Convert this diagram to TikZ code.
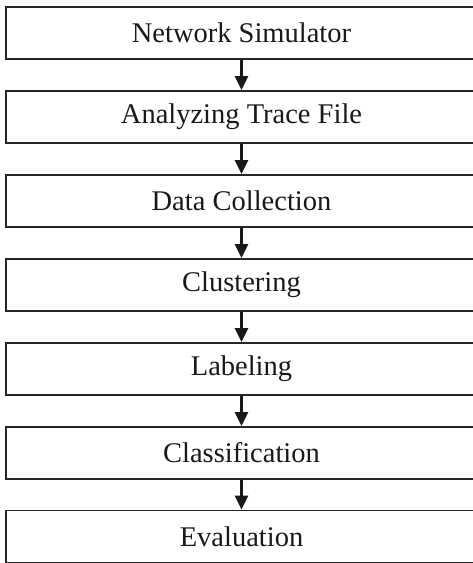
\documentclass[tikz,border=0pt]{standalone}
\usepackage{fontspec}
\setmainfont{Liberation Serif}
\usetikzlibrary{arrows.meta}
\begin{document}
\begin{tikzpicture}[x=1pt,y=1pt,
  stagebox/.style={draw=black!85, line width=1.8pt, minimum width=471pt, minimum height=52pt,
    inner sep=0pt, font=\fontsize{28.5}{30}\selectfont, text=black!90},
  flow/.style={draw=black!90, line width=2.4pt, -{Triangle[length=14pt,width=13pt]}}]
  \useasboundingbox (0,0) rectangle (473,563);
  \node[stagebox] (s1) at (241.5,530) {Network Simulator};
  \node[stagebox] (s2) at (241.5,446) {Analyzing Trace File};
  \node[stagebox] (s3) at (241.5,362) {Data Collection};
  \node[stagebox] (s4) at (241.5,278) {Clustering};
  \node[stagebox] (s5) at (241.5,194) {Labeling};
  \node[stagebox] (s6) at (241.5,110) {Classification};
  \node[stagebox] (s7) at (241.5,26.5) {Evaluation};
  \foreach \a/\b in {s1/s2,s2/s3,s3/s4,s4/s5,s5/s6,s6/s7}
    \draw[flow] (\a.south) -- (\b.north);
\end{tikzpicture}
\end{document}
